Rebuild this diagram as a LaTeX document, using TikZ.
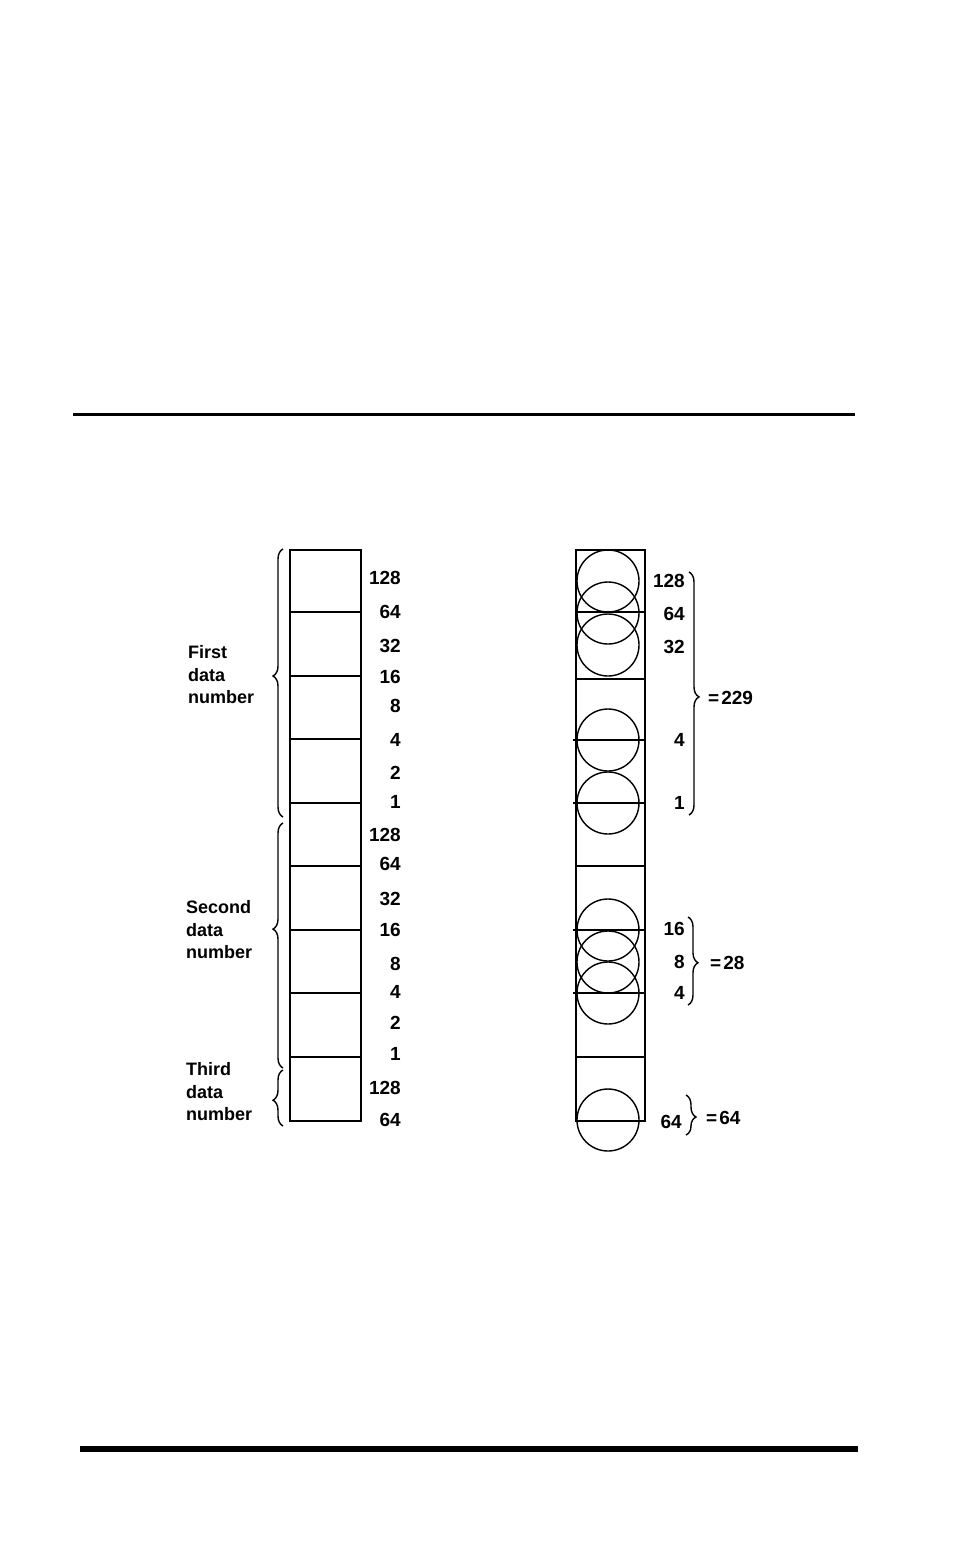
\documentclass[tikz,border=0pt]{standalone}
\usepackage{fontspec}
\setmainfont{Liberation Sans}
\usetikzlibrary{decorations.pathreplacing}
\begin{document}
\begin{tikzpicture}[x=1pt,y=-1pt,
  lbl/.style={font=\fontsize{18}{22.5}\selectfont\bfseries, inner sep=0pt},
  num/.style={font=\fontsize{19}{22.5}\selectfont\bfseries, inner sep=0pt},
  bitl/.style={num, anchor=east},
  grp/.style={lbl, anchor=west, align=left},
  sumt/.style={num, anchor=west},
  col/.style={draw, line width=1.6pt},
  bit/.style={draw, line width=1.4pt, circle, minimum size=62pt, inner sep=0pt},
  br/.style={draw, line width=1.4pt, decorate, decoration={brace, amplitude=10pt, aspect=#1}},
  br/.default=0.5
]
\useasboundingbox (0,0) rectangle (954,1568);
\fill[white] (0,0) rectangle (954,1568);

% rules
\draw[line width=3pt] (73,414) -- (855,414);
\draw[line width=6pt] (80,1449) -- (858,1449);

% left column
\node[col, minimum width=71pt, minimum height=571pt, inner sep=0pt, anchor=north west] (L) at (289,549) {};
\foreach \y in {612,676,739,803,866,930,993,1057} {
  \draw[line width=1.6pt] (289,\y) -- (360,\y);
}

% right column
\node[col, minimum width=69pt, minimum height=571pt, inner sep=0pt, anchor=north west] (R) at (575,549) {};
\foreach \y in {612,679,866,1057} {
  \draw[line width=1.6pt] (575,\y) -- (644,\y);
}
\foreach \y in {740,803,930,993} {
  \draw[line width=1.6pt] (573,\y) -- (644,\y);
}

% circles (bits set)
\foreach \y/\n in {581/c1,613/c2,645/c3,740/c4,803/c5,930/c6,962/c7,993/c8,1120/c9} {
  \node[bit] (\n) at (608,\y) {};
}

% left bit labels
\foreach \y/\t/\n in {578/128/a1,612/64/a2,646/32/a3,677/16/a4,706/8/a5,740/4/a6,773/2/a7,802/1/a8,
  835/128/b1,864/64/b2,899/32/b3,930/16/b4,964/8/b5,992/4/b6,1023/2/b7,1054/1/b8,
  1088/128/d1,1120/64/d2} {
  \node[bitl] (\n) at (401,\y) {\t};
}

% right bit labels
\foreach \y/\t/\n in {581/128/r1,614/64/r2,647/32/r3,740/4/r4,803/1/r5,929/16/r6,962/8/r7,993/4/r8} {
  \node[bitl] (\n) at (685,\y) {\t};
}
\node[bitl] (r9) at (682,1122) {64};

% group labels
\node[grp] (g1) at (188,675) {First\\data\\number};
\node[grp] (g2) at (186,930) {Second\\data\\number};
\node[grp] (g3) at (186,1092) {Third\\data\\number};

% left braces
\coordinate (l1b) at (283,817); \coordinate (l1t) at (283,549);
\coordinate (l2b) at (283,1068); \coordinate (l2t) at (283,823);
\coordinate (l3b) at (283,1126); \coordinate (l3t) at (283,1070);
\draw[br=0.526] (l1b) -- (l1t);
\draw[br=0.567] (l2b) -- (l2t);
\draw[br=0.46] (l3b) -- (l3t);

% right braces
\coordinate (s1t) at (689,572); \coordinate (s1b) at (689,815);
\coordinate (s2t) at (688,917); \coordinate (s2b) at (688,1005);
\coordinate (s3t) at (686,1095); \coordinate (s3b) at (686,1135);
\draw[br=0.514] (s1t) -- (s1b);
\draw[br=0.52] (s2t) -- (s2b);
\draw[br=0.55] (s3t) -- (s3b);

% sums
\node[sumt] (t1) at (708,698) {=\kern2pt229};
\node[sumt] (t2) at (710,963) {=\kern2pt28};
\node[sumt] (t3) at (706,1118) {=\kern2pt64};
\end{tikzpicture}
\end{document}
